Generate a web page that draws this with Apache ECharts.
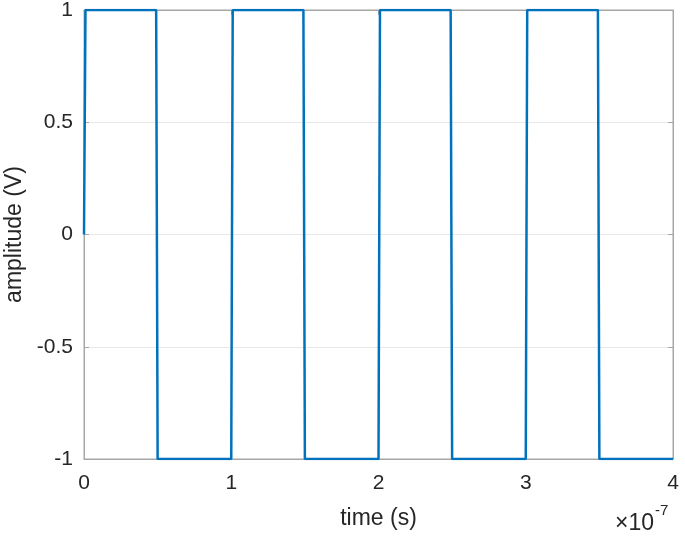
<!DOCTYPE html>
<html>
<head>
<meta charset="utf-8">
<script src="https://cdn.jsdelivr.net/npm/echarts@6/dist/echarts.min.js"></script>
<style>
  html, body { margin: 0; padding: 0; background: #fff; }
  #chart { width: 685px; height: 536px; }
</style>
</head>
<body>
<div id="chart"></div>
<script>
// time in units of 1e-7 s
var timeValues = [0, 0.01, 0.49, 0.5, 1.0, 1.01, 1.49, 1.5, 2.0, 2.01, 2.49, 2.5, 3.0, 3.01, 3.49, 3.5, 4.0]
var ampValues = [0, 1, 1, -1, -1, 1, 1, -1, -1, 1, 1, -1, -1, 1, 1, -1, -1]
var xTicks = [0, 1, 2, 3, 4]
var yTicks = [-1, -0.5, 0, 0.5, 1]

var points = timeValues.map(function (t, i) { return [t, ampValues[i]] })

var chart = echarts.init(document.getElementById('chart'))
var fontFam = 'Liberation Sans, Arial, sans-serif'
var tickFont = { color: '#262626', fontSize: 21, fontFamily: fontFam }
var nameFont = { color: '#262626', fontSize: 23, fontFamily: fontFam }
var boxColor = '#a6a6a6'

var option = {
  animation: false,
  grid: {
    left: 84, right: 12, top: 10, bottom: 77,
    containLabel: false,
    outerBoundsMode: 'none',
    show: true, borderColor: boxColor, borderWidth: 1
  },
  xAxis: [{
    type: 'value',
    min: xTicks[0],
    max: xTicks[xTicks.length - 1],
    interval: 1,
    name: 'time (s)',
    nameLocation: 'middle',
    nameGap: 48,
    nameTextStyle: nameFont,
    axisLine: { onZero: false, lineStyle: { color: boxColor } },
    axisTick: { inside: true, length: 5, lineStyle: { color: boxColor } },
    axisLabel: Object.assign({ margin: 14 }, tickFont),
    splitLine: { show: false }
  }, {
    type: 'value',
    position: 'top',
    min: 0, max: 4, interval: 1,
    axisLine: { onZero: false, lineStyle: { color: boxColor } },
    axisTick: { inside: true, length: 5, lineStyle: { color: boxColor } },
    axisLabel: { show: false },
    splitLine: { show: false }
  }],
  yAxis: [{
    type: 'value',
    min: yTicks[0],
    max: yTicks[yTicks.length - 1],
    interval: 0.5,
    name: 'amplitude (V)',
    nameLocation: 'middle',
    nameGap: 51,
    nameTextStyle: nameFont,
    axisLine: { show: true, onZero: false, lineStyle: { color: boxColor } },
    axisTick: { show: true, inside: true, length: 5, lineStyle: { color: boxColor } },
    axisLabel: Object.assign({ margin: 11 }, tickFont),
    splitLine: { show: true, lineStyle: { color: '#e8e8e8', width: 1 } }
  }, {
    type: 'value',
    position: 'right',
    min: -1, max: 1, interval: 0.5,
    axisLine: { show: true, onZero: false, lineStyle: { color: boxColor } },
    axisTick: { show: true, inside: true, length: 5, lineStyle: { color: boxColor } },
    axisLabel: { show: false },
    splitLine: { show: false }
  }],
  graphic: [{
    type: 'text',
    x: 654,
    y: 524,
    style: {
      text: '×10',
      align: 'right',
      verticalAlign: 'middle',
      fontSize: 23,
      fontFamily: fontFam,
      fill: '#262626'
    }
  }, {
    type: 'text',
    x: 655,
    y: 503,
    style: {
      text: '-7',
      align: 'left',
      verticalAlign: 'top',
      fontSize: 15,
      fontFamily: fontFam,
      fill: '#262626'
    }
  }],
  series: [{
    type: 'line',
    data: points,
    showSymbol: false,
    lineStyle: { color: '#0072bd', width: 2.5 },
    itemStyle: { color: '#0072bd' }
  }]
}
chart.setOption(option)
</script>
</body>
</html>
